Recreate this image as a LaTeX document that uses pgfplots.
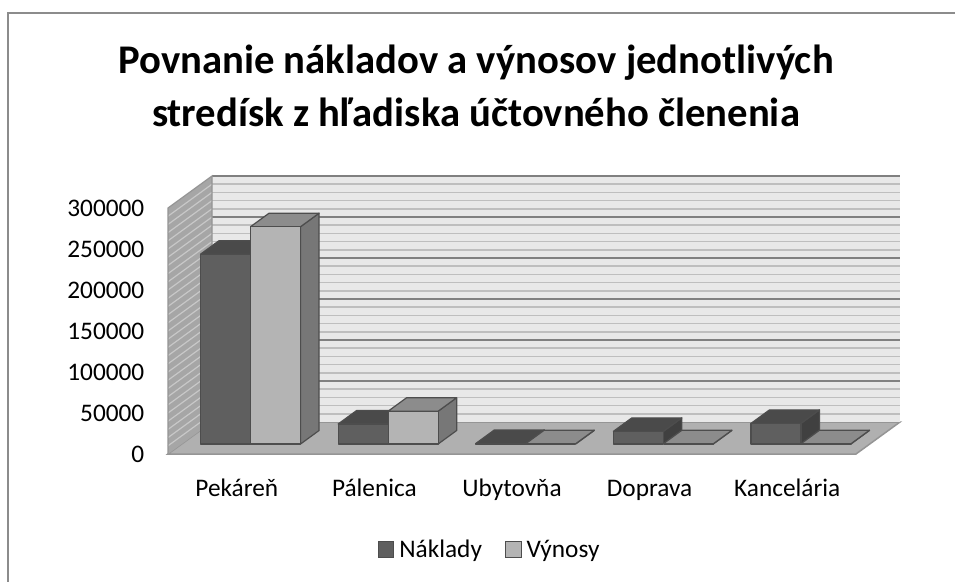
\documentclass[border=0pt]{standalone}
\usepackage{pgfplots}
\pgfplotsset{compat=1.18}
\usepackage{pgfplotstable}
\usepackage{fontspec}
\setmainfont{Carlito}

\definecolor{nakfront}{HTML}{5F5F5F}
\definecolor{naktop}{HTML}{4A4A4A}
\definecolor{nakside}{HTML}{404040}
\definecolor{vynfront}{HTML}{B4B4B4}
\definecolor{vyntop}{HTML}{8C8C8C}
\definecolor{vynside}{HTML}{777777}
\definecolor{edgec}{HTML}{4D4D4D}
\definecolor{wallback}{HTML}{E8E8E8}
\definecolor{gridminor}{HTML}{BEBEBE}
\definecolor{gridmajor}{HTML}{808080}
\definecolor{wallside}{HTML}{A6A6A6}
\definecolor{wallsideline}{HTML}{C8C8C8}
\definecolor{floorc}{HTML}{B0B0B0}
\definecolor{flooredge}{HTML}{959595}
\definecolor{framec}{HTML}{8C8C8C}

\pgfplotstableread{
idx naklady vynosy
0 231500 265000
1 24400 40000
2 600 400
3 15400 300
4 25100 300
}\datatable

\pgfdeclareplotmark{nothing}{}

% #1 x offset of the front face, #2 front, #3 top, #4 side colour
\newcommand\drawbox[4]{%
  \pgfkeys{/pgf/fpu=true,/pgf/fpu/output format=fixed}%
  \pgfmathparse{\barval*0.00082}%
  \let\hh\pgfmathresult
  \pgfkeys{/pgf/fpu=false}%
  \pgfscope
  \pgftransformshift{\pgfpoint{#1+13.75pt}{10pt}}%
    \filldraw[fill=#4, draw=edgec, line width=1.2pt, line join=round] (50pt,-\hh*1pt) -- (68.5pt,-\hh*1pt+13.5pt) -- (68.5pt,13.5pt) -- (50pt,0pt) -- cycle;
    \filldraw[fill=#3, draw=edgec, line width=1.2pt, line join=round] (0pt,0pt) -- (50pt,0pt) -- (68.5pt,13.5pt) -- (18.5pt,13.5pt) -- cycle;
    \filldraw[fill=#2, draw=edgec, line width=1.2pt, line join=round] (0pt,-\hh*1pt) rectangle (50pt,0pt);
  \endpgfscope
}

\begin{document}
\begin{tikzpicture}
\useasboundingbox (0pt,0pt) rectangle (955pt,581pt);
\draw[framec, line width=1.5pt] (8pt,-5pt) -- (8pt,568pt) -- (960pt,568pt);
\node[anchor=base, inner sep=0pt, font=\bfseries\fontsize{40.7}{48}\selectfont] at (476pt,507.7pt) {Povnanie nákladov a výnosov jednotlivých};
\node[anchor=base, inner sep=0pt, font=\bfseries\fontsize{40.7}{48}\selectfont] at (476pt,454.8pt) {stredísk z hľadiska účtovného členenia};
\begin{axis}[
  at={(168pt,127pt)}, anchor=south west,
  scale only axis, width=688pt, height=246pt,
  xmin=-0.5, xmax=4.5, ymin=0, ymax=300000,
  clip=false,
  axis line style={draw=none},
  tick style={draw=none},
  xtick={0,1,2,3,4},
  xticklabels={Pekáreň,Pálenica,Ubytovňa,Doprava,Kancelária},
  ytick={0,50000,100000,150000,200000,250000,300000},
  scaled y ticks=false,
  /pgf/number format/assume math mode=true,
  yticklabel style={/pgf/number format/fixed, /pgf/number format/1000 sep={}},
  tick label style={font=\fontsize{25.3}{30}\selectfont, inner sep=0pt},
  xticklabel style={anchor=base, yshift=-42.7pt},
  yticklabel style={anchor=east, xshift=-23.5pt},
  legend columns=2,
  legend cell align=left,
  legend style={at={(axis description cs:0.466,-0.3955)}, anchor=center,
    draw=none, fill=none, inner sep=0pt,
    font=\fontsize{25.3}{30}\selectfont,
    nodes={inner sep=0pt, text height=18pt, text depth=6pt},
    /tikz/every odd column/.append style={column sep=5pt},
    /tikz/every even column/.append style={column sep=23pt}},
]
% floor
\filldraw[fill=floorc, draw=flooredge, line width=1.5pt] (axis cs:-0.5,0) -- (axis cs:4.5,0) -- ([shift={(44pt,32pt)}]axis cs:4.5,0) -- ([shift={(44pt,32pt)}]axis cs:-0.5,0) -- cycle;
% back wall
\fill[wallback] ([shift={(44pt,32pt)}]axis cs:-0.5,0) rectangle ([shift={(44pt,32pt)}]axis cs:4.5,300000);
\pgfplotsinvokeforeach{10,20,...,290}{
  \draw[gridminor, line width=1.6pt] ([shift={(44pt,32pt)}]axis cs:-0.5,#1000) -- ([shift={(44pt,32pt)}]axis cs:4.5,#1000);
}
\pgfplotsinvokeforeach{50,100,...,300}{
  \draw[gridmajor, line width=1.6pt] ([shift={(44pt,32pt)}]axis cs:-0.5,#1000) -- ([shift={(44pt,32pt)}]axis cs:4.5,#1000);
}
% left wall
\fill[wallside] (axis cs:-0.5,0) -- (axis cs:-0.5,300000) -- ([shift={(44pt,32pt)}]axis cs:-0.5,300000) -- ([shift={(44pt,32pt)}]axis cs:-0.5,0) -- cycle;
\pgfplotsinvokeforeach{10,20,...,290}{
  \draw[wallsideline, line width=1.2pt] (axis cs:-0.5,#1000) -- ([shift={(44pt,32pt)}]axis cs:-0.5,#1000);
}
\draw[flooredge, line width=1.2pt] (axis cs:-0.5,0) -- (axis cs:-0.5,300000) -- ([shift={(44pt,32pt)}]axis cs:-0.5,300000) -- ([shift={(44pt,32pt)}]axis cs:-0.5,0);
% bars
\addplot[scatter, only marks, mark=nothing, forget plot,
  visualization depends on={rawy \as \barval},
  scatter/@pre marker code/.code={\drawbox{-50pt}{nakfront}{naktop}{nakside}},
  scatter/@post marker code/.code={}]
  table[x=idx, y=naklady]{\datatable};
\addplot[scatter, only marks, mark=nothing, forget plot,
  visualization depends on={rawy \as \barval},
  scatter/@pre marker code/.code={\drawbox{0pt}{vynfront}{vyntop}{vynside}},
  scatter/@post marker code/.code={}]
  table[x=idx, y=vynosy]{\datatable};
% legend
\addlegendimage{legend image code/.code={\filldraw[fill=nakfront, draw=edgec, line width=1pt] (0pt,-6pt) rectangle (15.6pt,9.6pt);}}
\addlegendentry{Náklady}
\addlegendimage{legend image code/.code={\filldraw[fill=vynfront, draw=edgec, line width=1pt] (0pt,-6pt) rectangle (15.6pt,9.6pt);}}
\addlegendentry{Výnosy}
\end{axis}
\end{tikzpicture}
\end{document}
